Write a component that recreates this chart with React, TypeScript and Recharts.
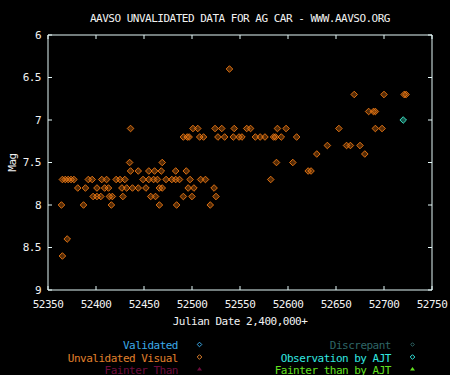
import React from 'react';
import { ScatterChart, Scatter, XAxis, YAxis } from 'recharts';

const titleText = 'AAVSO UNVALIDATED DATA FOR AG CAR - WWW.AAVSO.ORG';
const xAxisTitle = 'Julian Date 2,400,000+';
const yAxisTitle = 'Mag';
const xTicks = [52350, 52400, 52450, 52500, 52550, 52600, 52650, 52700, 52750];
const yTicks = [6, 6.5, 7, 7.5, 8, 8.5, 9];

// Unvalidated visual observations (Julian Date - 2,400,000, magnitude)
const unvalidatedJD = [
  52365, 52370,
  52364, 52387, 52416, 52466, 52484, 52519,
  52397, 52401, 52405, 52414, 52417, 52428, 52457, 52462, 52491, 52500, 52525,
  52381, 52389, 52401, 52409, 52413, 52427, 52432, 52438, 52444, 52452, 52466, 52469, 52496, 52502, 52523,
  52365, 52368, 52371, 52374, 52377, 52392, 52396, 52406, 52411, 52421, 52425, 52430, 52449, 52455, 52460, 52464, 52473, 52479, 52483, 52487, 52498, 52509, 52514, 52582,
  52436, 52444, 52455, 52461, 52468, 52483, 52494, 52621, 52624,
  52435, 52469, 52588, 52605,
  52630, 52680,
  52641, 52661, 52665, 52675,
  52491, 52495, 52497, 52508, 52512, 52527, 52534, 52543, 52549, 52552, 52566, 52571, 52576, 52585, 52587, 52593, 52609,
  52436, 52501, 52506, 52524, 52531, 52544, 52557, 52561, 52589, 52598, 52653, 52691, 52698,
  52684, 52689, 52691,
  52669, 52700, 52721, 52723,
  52539,
];
const unvalidatedMag = [
  8.6, 8.4,
  8.0, 8.0, 8.0, 8.0, 8.0, 8.0,
  7.9, 7.9, 7.9, 7.9, 7.9, 7.9, 7.9, 7.9, 7.9, 7.9, 7.9,
  7.8, 7.8, 7.8, 7.8, 7.8, 7.8, 7.8, 7.8, 7.8, 7.8, 7.8, 7.8, 7.8, 7.8, 7.8,
  7.7, 7.7, 7.7, 7.7, 7.7, 7.7, 7.7, 7.7, 7.7, 7.7, 7.7, 7.7, 7.7, 7.7, 7.7, 7.7, 7.7, 7.7, 7.7, 7.7, 7.7, 7.7, 7.7, 7.7,
  7.6, 7.6, 7.6, 7.6, 7.6, 7.6, 7.6, 7.6, 7.6,
  7.5, 7.5, 7.5, 7.5,
  7.4, 7.4,
  7.3, 7.3, 7.3, 7.3,
  7.2, 7.2, 7.2, 7.2, 7.2, 7.2, 7.2, 7.2, 7.2, 7.2, 7.2, 7.2, 7.2, 7.2, 7.2, 7.2, 7.2,
  7.1, 7.1, 7.1, 7.1, 7.1, 7.1, 7.1, 7.1, 7.1, 7.1, 7.1, 7.1, 7.1,
  6.9, 6.9, 6.9,
  6.7, 6.7, 6.7, 6.7,
  6.4,
];
// Observations by AJT
const ajtJD = [52720];
const ajtMag = [7.0];

const legendLeftNames = ['Validated', 'Unvalidated Visual', 'Fainter Than'];
const legendLeftColors = ['#3caae8', '#e0802c', '#6e0c3e'];
const legendLeftShapes = ['diamond', 'diamond', 'triangle'];
const legendRightNames = ['Discrepant', 'Observation by AJT', 'Fainter than by AJT'];
const legendRightColors = ['#2e6666', '#32e8e0', '#62e020'];
const legendRightShapes = ['smalldiamond', 'diamond', 'triangle'];

const ORANGE = '#f07a14';
const CYAN = '#40f0d0';
const AXIS = '#e4f8f8';
const TEXT = '#f2f2f2';
const MONO = '"DejaVu Sans Mono", "Liberation Mono", monospace';

const unvalidatedData = unvalidatedJD.map((jd, i) => ({ jd, mag: unvalidatedMag[i] }));
const ajtData = ajtJD.map((jd, i) => ({ jd, mag: ajtMag[i] }));

const makeDiamond = (color: string) => (props: any) => {
  const { cx, cy } = props;
  if (cx == null || cy == null) return <g />;
  const r = 3.3;
  return (
    <polygon
      points={`${cx},${cy - r} ${cx + r},${cy} ${cx},${cy + r} ${cx - r},${cy}`}
      fill={color}
      fillOpacity={0.35}
      stroke={color}
      strokeWidth={0.9}
    />
  );
};

const tickStyle = { fill: TEXT, fontSize: 11, fontFamily: MONO, letterSpacing: -0.5 };

const LegendMarker = ({ shape, color, x, y }: { shape: string; color: string; x: number; y: number }) => {
  if (shape === 'triangle') {
    return <polygon points={`${x},${y - 2} ${x + 2.5},${y + 1.5} ${x - 2.5},${y + 1.5}`} fill={color} />;
  }
  const r = shape === 'smalldiamond' ? 1.8 : 2.3;
  return (
    <polygon
      points={`${x},${y - r} ${x + r},${y} ${x},${y + r} ${x - r},${y}`}
      fill="none"
      stroke={color}
      strokeWidth={1}
    />
  );
};

const legendBaselines = [349, 361.5, 373.5];

export default function App() {
  return (
    <div
      style={{
        position: 'absolute',
        left: 0,
        top: 0,
        width: 450,
        height: 375,
        background: '#000',
        overflow: 'hidden',
      }}
    >
      <ScatterChart
        width={450}
        height={375}
        margin={{ top: 34, right: 17, bottom: 0, left: 0 }}
        style={{ background: '#000' }}
      >
        <XAxis
          xAxisId="bottom"
          dataKey="jd"
          type="number"
          orientation="bottom"
          domain={[52350, 52750]}
          ticks={xTicks}
          allowDataOverflow
          height={85}
          stroke={AXIS}
          axisLine={{ stroke: AXIS, strokeWidth: 1 }}
          tickLine={{ stroke: AXIS }}
          tickSize={-4}
          tickMargin={14}
          tick={tickStyle}
          interval={0}
          label={{
            value: xAxisTitle,
            position: 'insideTop',
            offset: 27,
            fill: TEXT,
            fontSize: 11,
            fontFamily: MONO,
            style: { letterSpacing: -0.5 },
          }}
        />
        <XAxis
          xAxisId="top"
          dataKey="jd"
          type="number"
          orientation="top"
          domain={[52350, 52750]}
          ticks={xTicks}
          allowDataOverflow
          height={1}
          axisLine={{ stroke: AXIS, strokeWidth: 1 }}
          tickLine={{ stroke: AXIS }}
          tickSize={-4}
          tick={() => <g />}
          interval={0}
        />
        <YAxis
          yAxisId="left"
          dataKey="mag"
          type="number"
          orientation="left"
          domain={[6, 9]}
          ticks={yTicks}
          reversed
          allowDataOverflow
          width={48}
          axisLine={{ stroke: AXIS, strokeWidth: 1 }}
          tickLine={{ stroke: AXIS }}
          tickSize={-4}
          tickMargin={11}
          tick={tickStyle}
          interval={0}
          label={{
            content: (p: any) => {
              const vb = p.viewBox || { x: 0, y: 34, width: 48, height: 256 };
              const cx = vb.x + 16;
              const cy = vb.y + vb.height / 2;
              return (
                <text
                  x={cx}
                  y={cy}
                  transform={`rotate(-90 ${cx} ${cy})`}
                  textAnchor="middle"
                  fill={TEXT}
                  fontSize={11}
                  fontFamily={MONO}
                  style={{ letterSpacing: -0.5 }}
                >
                  {yAxisTitle}
                </text>
              );
            },
          }}
        />
        <YAxis
          yAxisId="right"
          dataKey="mag"
          type="number"
          orientation="right"
          domain={[6, 9]}
          ticks={yTicks}
          reversed
          allowDataOverflow
          width={1}
          axisLine={{ stroke: AXIS, strokeWidth: 1 }}
          tickLine={{ stroke: AXIS }}
          tickSize={-4}
          tick={() => <g />}
          interval={0}
        />
        <Scatter
          name="Unvalidated Visual"
          data={unvalidatedData}
          xAxisId="bottom"
          yAxisId="left"
          isAnimationActive={false}
          shape={makeDiamond(ORANGE)}
        />
        <Scatter
          name="Observation by AJT"
          data={ajtData}
          xAxisId="bottom"
          yAxisId="left"
          isAnimationActive={false}
          shape={makeDiamond(CYAN)}
        />
      </ScatterChart>
      <svg
        width={450}
        height={375}
        style={{ position: 'absolute', left: 0, top: 0, pointerEvents: 'none' }}
      >
        <text
          x={240}
          y={22}
          textAnchor="middle"
          fill={TEXT}
          fontSize={11}
          fontFamily={MONO}
          style={{ letterSpacing: -0.5 }}
        >
          {titleText}
        </text>
        {legendLeftNames.map((name, i) => (
          <g key={name}>
            <text
              x={178}
              y={legendBaselines[i]}
              textAnchor="end"
              fill={legendLeftColors[i]}
              fontSize={11}
              fontFamily={MONO}
              style={{ letterSpacing: -0.5 }}
            >
              {name}
            </text>
            <LegendMarker shape={legendLeftShapes[i]} color={legendLeftColors[i]} x={199.5} y={legendBaselines[i] - 4.5} />
          </g>
        ))}
        {legendRightNames.map((name, i) => (
          <g key={name}>
            <text
              x={391}
              y={legendBaselines[i]}
              textAnchor="end"
              fill={legendRightColors[i]}
              fontSize={11}
              fontFamily={MONO}
              style={{ letterSpacing: -0.5 }}
            >
              {name}
            </text>
            <LegendMarker shape={legendRightShapes[i]} color={legendRightColors[i]} x={412.5} y={legendBaselines[i] - 4.5} />
          </g>
        ))}
      </svg>
    </div>
  );
}
